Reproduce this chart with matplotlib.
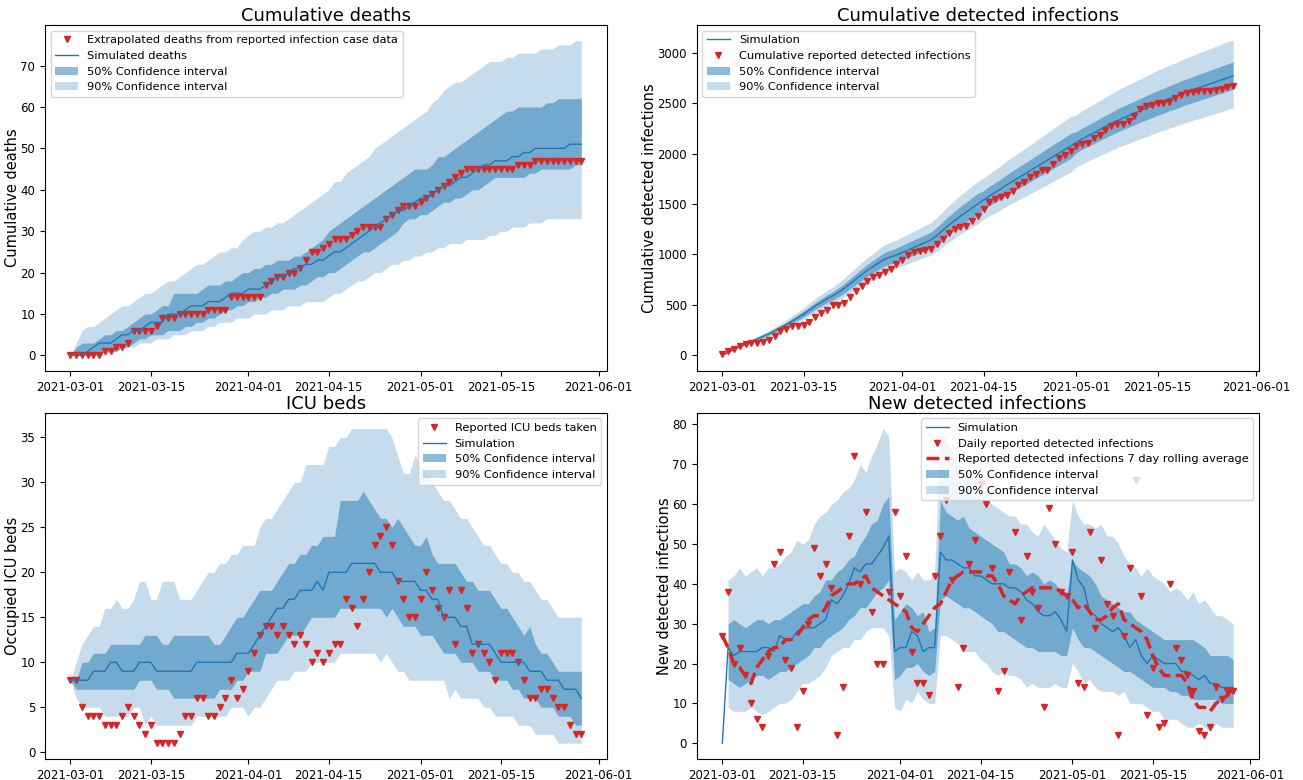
import numpy as np
import pandas as pd
import matplotlib
matplotlib.use("Agg")
import matplotlib.pyplot as plt
import matplotlib.dates as mdates

dates = pd.date_range("2021-03-01", periods=90)

# --- Cumulative deaths ---
deaths_reported = [0, 0, 0, 0, 0, 0, 1, 1, 2, 2, 3, 6, 6, 6, 6, 7, 9, 9, 9, 10,
                   10, 10, 10, 10, 11, 11, 11, 11, 14, 14, 14, 14, 14, 14, 17, 18, 19, 19, 20, 20,
                   21, 23, 25, 25, 26, 27, 28, 28, 28, 29, 30, 31, 31, 31, 31, 33, 34, 35, 36, 36,
                   36, 37, 38, 39, 40, 41, 42, 43, 44, 45, 45, 45, 45, 45, 45, 45, 45, 45, 46, 46,
                   46, 47, 47, 47, 47, 47, 47, 47, 47, 47]
deaths_sim = [0, 0, 0, 1, 2, 3, 3, 3, 4, 5, 5, 6, 6, 7, 8, 8, 8, 10, 10, 10,
              11, 12, 12, 12, 13, 13, 13, 14, 15, 15, 15, 16, 16, 16, 17, 18, 19, 19, 20, 21,
              21, 22, 22, 23, 23, 24, 25, 25, 26, 27, 28, 29, 30, 31, 32, 33, 34, 35, 35, 36,
              37, 38, 38, 39, 40, 41, 41, 42, 43, 43, 44, 45, 46, 46, 47, 47, 47, 48, 48, 49,
              49, 50, 50, 50, 50, 50, 50, 51, 51, 51]
deaths_lo50 = [0, 0, 0, 0, 0, 0, 1, 1, 1, 2, 2, 3, 4, 4, 5, 5, 5, 6, 6, 6,
               7, 7, 8, 8, 9, 9, 10, 11, 11, 12, 12, 13, 13, 14, 14, 15, 15, 16, 16, 16,
               17, 17, 18, 19, 19, 20, 20, 21, 22, 23, 24, 25, 25, 26, 27, 28, 29, 30, 32, 33,
               33, 34, 34, 35, 36, 37, 37, 38, 38, 39, 40, 40, 41, 42, 43, 43, 43, 43, 43, 43,
               44, 44, 45, 45, 45, 45, 45, 45, 46, 46]
deaths_hi50 = [0, 2, 3, 3, 3, 4, 5, 5, 6, 6, 7, 8, 9, 10, 10, 11, 12, 12, 15, 15,
               15, 15, 15, 16, 17, 17, 17, 18, 18, 19, 20, 20, 21, 21, 22, 22, 23, 23, 23, 24,
               24, 25, 26, 27, 28, 30, 31, 32, 33, 34, 35, 36, 37, 38, 39, 40, 41, 42, 43, 44,
               45, 45, 45, 46, 48, 48, 49, 50, 51, 52, 53, 54, 55, 56, 57, 58, 59, 59, 60, 60,
               60, 60, 60, 61, 61, 62, 62, 62, 62, 62]
deaths_lo90 = [0, 0, 0, 0, 0, 0, 0, 1, 1, 2, 2, 2, 3, 3, 3, 4, 4, 4, 5, 5,
               5, 6, 6, 6, 7, 7, 8, 8, 8, 9, 9, 9, 10, 10, 10, 11, 11, 11, 12, 12,
               12, 13, 13, 13, 13, 14, 15, 15, 16, 17, 18, 18, 19, 20, 20, 21, 22, 22, 23, 23,
               24, 24, 25, 25, 26, 26, 27, 27, 27, 28, 28, 28, 28, 29, 29, 30, 30, 31, 31, 31,
               32, 32, 32, 33, 33, 33, 33, 33, 33, 33]
deaths_hi90 = [0, 3, 6, 7, 7, 8, 9, 10, 11, 12, 12, 13, 14, 15, 15, 16, 17, 18, 18, 19,
               20, 21, 22, 22, 23, 24, 25, 25, 26, 26, 28, 29, 30, 30, 31, 31, 32, 32, 33, 34,
               35, 36, 37, 38, 39, 40, 42, 42, 44, 45, 46, 47, 48, 50, 51, 52, 53, 54, 55, 56,
               57, 58, 59, 61, 62, 64, 65, 66, 66, 67, 68, 69, 70, 71, 71, 71, 72, 72, 73, 73,
               73, 73, 74, 74, 74, 75, 75, 75, 76, 76]

# --- Cumulative detected infections (one day shorter) ---
cases_reported = [10, 43, 66, 92, 115, 125, 125, 132, 152, 191,
                  247, 264, 290, 290, 300, 330, 379, 422, 455, 498,
                  498, 521, 577, 643, 686, 742, 775, 801, 824, 857,
                  906, 949, 995, 1022, 1038, 1048, 1055, 1104, 1154, 1213,
                  1252, 1269, 1285, 1335, 1384, 1454, 1516, 1552, 1569, 1585,
                  1632, 1684, 1714, 1763, 1800, 1833, 1842, 1898, 1951, 1987,
                  2024, 2076, 2093, 2103, 2156, 2185, 2235, 2268, 2297, 2297,
                  2327, 2373, 2439, 2472, 2482, 2502, 2505, 2508, 2554, 2577,
                  2597, 2610, 2620, 2620, 2620, 2627, 2640, 2660, 2670]
cases_sim = [0, 30, 60, 90, 115, 140, 165, 190, 215, 245,
             275, 305, 340, 375, 410, 450, 490, 525, 560, 590,
             625, 665, 710, 755, 800, 845, 880, 920, 955, 975,
             995, 1020, 1045, 1070, 1095, 1120, 1145, 1190, 1240, 1290,
             1335, 1380, 1420, 1460, 1500, 1540, 1580, 1615, 1650, 1690,
             1725, 1760, 1795, 1830, 1865, 1900, 1935, 1970, 2005, 2040,
             2075, 2110, 2145, 2175, 2205, 2235, 2265, 2295, 2325, 2350,
             2375, 2400, 2425, 2450, 2475, 2500, 2520, 2545, 2565, 2590,
             2610, 2630, 2650, 2670, 2690, 2710, 2730, 2750, 2770]
cases_lo50 = [0, 28, 56, 84, 107, 130, 153, 177, 200, 228,
              256, 284, 316, 349, 381, 419, 456, 488, 521, 549,
              581, 618, 660, 702, 744, 786, 818, 856, 888, 907,
              925, 949, 972, 995, 1018, 1042, 1065, 1107, 1153, 1200,
              1242, 1283, 1321, 1358, 1395, 1448, 1485, 1518, 1551, 1589,
              1622, 1654, 1687, 1720, 1753, 1786, 1819, 1852, 1885, 1918,
              1951, 2009, 2042, 2071, 2099, 2128, 2156, 2185, 2213, 2237,
              2261, 2285, 2309, 2332, 2356, 2380, 2399, 2423, 2442, 2466,
              2485, 2504, 2523, 2542, 2561, 2580, 2599, 2618, 2637]
cases_hi50 = [0, 32, 64, 96, 123, 150, 177, 203, 230, 262,
              294, 326, 364, 401, 439, 482, 524, 562, 599, 631,
              669, 712, 760, 808, 856, 904, 942, 984, 1022, 1043,
              1065, 1091, 1118, 1145, 1172, 1198, 1225, 1273, 1327, 1380,
              1428, 1477, 1519, 1562, 1605, 1632, 1675, 1712, 1749, 1791,
              1829, 1866, 1903, 1940, 1977, 2014, 2051, 2088, 2125, 2162,
              2200, 2216, 2252, 2284, 2315, 2347, 2378, 2410, 2441, 2468,
              2494, 2520, 2546, 2573, 2599, 2625, 2646, 2672, 2693, 2720,
              2741, 2762, 2783, 2804, 2825, 2846, 2867, 2888, 2909]
cases_lo90 = [0, 26, 52, 78, 100, 122, 144, 165, 187, 213,
              239, 265, 296, 326, 357, 392, 426, 457, 487, 513,
              544, 579, 618, 657, 696, 735, 766, 800, 831, 848,
              866, 887, 909, 931, 953, 974, 996, 1035, 1079, 1122,
              1161, 1201, 1235, 1270, 1305, 1348, 1383, 1413, 1444, 1479,
              1509, 1540, 1571, 1601, 1632, 1663, 1693, 1724, 1754, 1785,
              1816, 1867, 1898, 1925, 1951, 1978, 2005, 2031, 2058, 2080,
              2102, 2124, 2146, 2168, 2190, 2213, 2230, 2252, 2270, 2292,
              2310, 2328, 2345, 2363, 2381, 2398, 2416, 2434, 2451]
cases_hi90 = [0, 35, 69, 104, 132, 161, 190, 219, 247, 282,
              316, 351, 391, 431, 472, 518, 564, 604, 644, 679,
              719, 765, 817, 868, 920, 972, 1012, 1058, 1098, 1121,
              1144, 1173, 1202, 1231, 1259, 1288, 1317, 1369, 1426, 1484,
              1535, 1587, 1633, 1679, 1725, 1756, 1801, 1841, 1881, 1927,
              1967, 2006, 2046, 2086, 2126, 2166, 2206, 2246, 2286, 2326,
              2366, 2384, 2424, 2458, 2492, 2526, 2559, 2593, 2627, 2656,
              2684, 2712, 2740, 2769, 2797, 2825, 2848, 2876, 2898, 2927,
              2949, 2972, 2995, 3017, 3040, 3062, 3085, 3108, 3118]

# --- ICU beds ---
icu_reported = [8, 8, 5, 4, 4, 4, 3, 3, 3, 4, 5, 4, 3, 2, 3, 1, 1, 1, 1, 2,
                4, 4, 6, 6, 4, 4, 5, 6, 8, 6, 7, 9, 11, 13, 14, 14, 13, 14, 13, 12,
                13, 12, 10, 11, 10, 11, 12, 12, 17, 16, 14, 17, 20, 23, 24, 25, 23, 19, 17, 15,
                15, 17, 20, 18, 16, 15, 18, 12, 18, 16, 11, 12, 11, 10, 8, 11, 11, 11, 10, 8,
                6, 6, 7, 7, 6, 5, 5, 3, 2, 2]
icu_sim = [8, 8, 8, 8, 9, 9, 9, 10, 10, 9, 9, 9, 10, 10, 10, 9, 9, 9, 9, 9,
           9, 9, 10, 10, 10, 10, 10, 10, 10, 11, 11, 11, 12, 13, 14, 15, 16, 16, 17, 17,
           18, 18, 18, 19, 18, 20, 20, 20, 20, 21, 21, 21, 21, 21, 20, 20, 20, 19, 19, 19,
           19, 18, 18, 17, 17, 15, 15, 15, 14, 14, 12, 12, 12, 12, 11, 10, 10, 10, 10, 10,
           9, 9, 9, 8, 8, 8, 7, 7, 7, 6]
icu_lo50 = [8, 7, 7, 7, 7, 7, 7, 7, 7, 7, 7, 7, 8, 8, 8, 7, 7, 7, 6, 6,
            6, 6, 6, 6, 6, 6, 7, 7, 7, 8, 8, 9, 9, 9, 11, 11, 11, 12, 13, 13,
            13, 14, 15, 15, 15, 15, 15, 16, 16, 16, 16, 16, 16, 16, 16, 15, 16, 15, 14, 14,
            14, 13, 13, 13, 12, 11, 11, 11, 10, 10, 10, 9, 9, 9, 8, 8, 8, 7, 7, 6,
            6, 6, 5, 5, 5, 4, 4, 4, 3, 3]
icu_hi50 = [8, 8, 10, 10, 11, 11, 11, 12, 12, 12, 12, 12, 12, 13, 13, 13, 12, 12, 13, 13,
            13, 13, 13, 13, 13, 12, 12, 13, 14, 15, 15, 16, 17, 18, 18, 18, 19, 20, 21, 21,
            22, 22, 23, 23, 24, 24, 24, 28, 28, 28, 28, 29, 28, 27, 26, 26, 25, 26, 25, 24,
            23, 23, 24, 22, 21, 21, 21, 21, 20, 19, 19, 18, 18, 18, 17, 16, 16, 15, 14, 13,
            14, 12, 11, 11, 10, 9, 9, 9, 9, 9]
icu_lo90 = [8, 6, 5, 5, 5, 5, 4, 4, 4, 4, 4, 5, 5, 3, 4, 3, 3, 3, 3, 3,
            3, 3, 4, 4, 4, 4, 4, 4, 5, 5, 5, 4, 5, 5, 6, 7, 8, 8, 8, 9,
            9, 9, 10, 10, 10, 10, 10, 11, 11, 11, 11, 11, 11, 11, 10, 11, 10, 9, 9, 8,
            8, 8, 8, 8, 8, 8, 6, 7, 6, 6, 6, 6, 5, 5, 4, 4, 4, 4, 3, 3,
            3, 2, 2, 2, 2, 1, 1, 1, 1, 1]
icu_hi90 = [8, 10, 12, 13, 14, 14, 16, 16, 17, 16, 16, 17, 19, 19, 17, 17, 19, 19, 19, 17,
            17, 17, 18, 19, 20, 20, 21, 21, 22, 22, 23, 23, 23, 25, 26, 26, 27, 28, 29, 30,
            30, 32, 32, 32, 32, 34, 34, 35, 35, 36, 36, 36, 36, 36, 36, 36, 35, 33, 31, 31,
            33, 32, 31, 30, 29, 28, 28, 27, 26, 26, 25, 24, 23, 23, 22, 21, 21, 20, 20, 19,
            19, 18, 17, 17, 16, 15, 15, 15, 15, 15]

# --- New detected infections (bands start on day 2) ---
new_reported = [27, 38, 20, 24, 17, 10, 6, 4, 22, 45, 48, 21, 19, 4, 13, 30, 49, 42, 45, 39,
                2, 14, 52, 72, 40, 58, 33, 20, 20, 38, 58, 37, 47, 23, 15, 15, 12, 42, 52, 61,
                41, 14, 24, 45, 51, 65, 60, 44, 13, 18, 43, 53, 31, 47, 38, 34, 9, 59, 50, 38,
                37, 48, 15, 14, 53, 29, 46, 35, 32, 2, 27, 44, 66, 37, 7, 19, 4, 5, 40, 24,
                21, 17, 13, 3, 2, 4, 14, 11, 13, 13]
new_rolling = [27, 24, 20, 19, 17, 15, 19, 21, 23, 24, 24, 26, 26, 27, 29, 31, 32, 32, 34, 37,
               38, 39, 40, 40, 41, 42, 39, 38, 37, 36, 35, 34, 33, 29, 28, 30, 32, 34, 35, 38,
               41, 42, 43, 43, 43, 43, 42, 42, 40, 37, 36, 35, 37, 38, 39, 39, 39, 39, 39, 38,
               37, 36, 34, 35, 33, 31, 31, 32, 34, 35, 31, 30, 29, 28, 26, 22, 19, 17, 17, 17,
               17, 15, 11, 9, 9, 8, 10, 11, 12, 14]
new_sim = [0, 24, 22, 23, 23, 23, 23, 24, 24, 23, 27, 26, 26, 28, 29, 29, 29, 30, 31, 36,
           35, 37, 40, 44, 43, 45, 45, 47, 49, 52, 23, 24, 24, 28, 27, 23, 24, 24, 48, 46,
           46, 45, 44, 44, 42, 42, 41, 40, 40, 40, 39, 39, 38, 36, 35, 33, 32, 32, 33, 31,
           28, 46, 41, 39, 33, 32, 30, 29, 28, 29, 27, 24, 26, 22, 20, 22, 21, 20, 20, 20,
           18, 18, 17, 16, 17, 15, 15, 14, 14, 14]
new_lo50 = [16, 15, 14, 15, 16, 17, 17, 16, 17, 18, 18, 19, 20, 21, 22, 24, 24, 26, 27, 28,
            29, 31, 32, 34, 34, 36, 38, 39, 41, 16, 17, 19, 19, 20, 18, 17, 18, 36, 37, 36,
            35, 34, 34, 33, 32, 31, 30, 28, 28, 27, 26, 25, 24, 24, 23, 23, 23, 23, 22, 22,
            29, 26, 24, 24, 23, 22, 21, 20, 19, 18, 18, 17, 16, 15, 14, 14, 14, 13, 13, 12,
            12, 11, 11, 11, 11, 11, 10, 10, 10]
new_hi50 = [30, 31, 30, 29, 30, 31, 31, 30, 31, 31, 32, 33, 34, 35, 35, 37, 38, 41, 41, 43,
            44, 46, 47, 50, 52, 55, 56, 60, 62, 31, 33, 35, 34, 32, 33, 28, 29, 61, 58, 57,
            56, 57, 54, 53, 52, 51, 50, 49, 48, 45, 45, 44, 42, 43, 42, 40, 41, 40, 38, 37,
            46, 44, 43, 42, 40, 37, 36, 35, 34, 33, 33, 31, 30, 29, 28, 27, 26, 26, 26, 26,
            26, 26, 25, 24, 22, 22, 22, 22, 21]
new_lo90 = [9, 8, 8, 8, 9, 8, 7, 8, 9, 10, 10, 11, 13, 15, 15, 16, 17, 19, 22, 23,
            24, 24, 26, 26, 28, 29, 29, 29, 27, 9, 8, 11, 10, 13, 11, 10, 10, 27, 27, 26,
            25, 23, 23, 23, 21, 20, 18, 17, 18, 17, 17, 16, 14, 15, 14, 14, 14, 15, 14, 14,
            20, 18, 15, 16, 14, 13, 13, 13, 12, 13, 10, 10, 10, 9, 8, 8, 6, 6, 6, 5,
            4, 4, 5, 4, 3, 5, 4, 4, 4]
new_hi90 = [41, 42, 44, 42, 43, 44, 42, 44, 44, 45, 47, 48, 51, 50, 51, 55, 57, 58, 60, 61,
            63, 64, 66, 70, 68, 72, 75, 79, 77, 43, 44, 43, 41, 43, 41, 41, 43, 79, 76, 73,
            70, 69, 67, 66, 64, 61, 60, 59, 58, 57, 57, 55, 55, 53, 52, 55, 53, 51, 49, 48,
            61, 57, 55, 55, 54, 55, 52, 52, 50, 47, 45, 44, 42, 44, 42, 41, 40, 38, 39, 38,
            36, 38, 35, 36, 34, 32, 32, 31, 30]

blue = "tab:blue"
red = "tab:red"

fig, axes = plt.subplots(2, 2, figsize=(13.03, 7.8), dpi=100)
fig.subplots_adjust(left=0.0345, right=0.966, bottom=0.027, top=0.968, wspace=0.16, hspace=0.12)
ax1, ax2, ax3, ax4 = axes.flat

# Cumulative deaths
ax1.plot(dates, deaths_reported, "v", color=red, ms=5, label="Extrapolated deaths from reported infection case data")
ax1.plot(dates, deaths_sim, color=blue, lw=1, label="Simulated deaths")
ax1.fill_between(dates, deaths_lo50, deaths_hi50, color=blue, alpha=0.5, lw=0, label="50% Confidence interval")
ax1.fill_between(dates, deaths_lo90, deaths_hi90, color=blue, alpha=0.25, lw=0, label="90% Confidence interval")
ax1.set_title("Cumulative deaths", fontsize=13, pad=2.5)
ax1.set_ylabel("Cumulative deaths", fontsize=10.5, labelpad=0)
ax1.legend(loc="upper left", fontsize=8.2)

# Cumulative detected infections
d2 = dates[:89]
ax2.plot(d2, cases_sim, color=blue, lw=1, label="Simulation")
ax2.plot(d2, cases_reported, "v", color=red, ms=5, label="Cumulative reported detected infections")
ax2.fill_between(d2, cases_lo50, cases_hi50, color=blue, alpha=0.5, lw=0, label="50% Confidence interval")
ax2.fill_between(d2, cases_lo90, cases_hi90, color=blue, alpha=0.25, lw=0, label="90% Confidence interval")
ax2.set_title("Cumulative detected infections", fontsize=13, pad=2.5)
ax2.set_ylabel("Cumulative detected infections", fontsize=10.5, labelpad=0)
ax2.legend(loc="upper left", fontsize=8.2)

# ICU beds
ax3.plot(dates, icu_reported, "v", color=red, ms=5, label="Reported ICU beds taken")
ax3.plot(dates, icu_sim, color=blue, lw=1, label="Simulation")
ax3.fill_between(dates, icu_lo50, icu_hi50, color=blue, alpha=0.5, lw=0, label="50% Confidence interval")
ax3.fill_between(dates, icu_lo90, icu_hi90, color=blue, alpha=0.25, lw=0, label="90% Confidence interval")
ax3.set_title("ICU beds", fontsize=13, pad=2.5)
ax3.set_ylabel("Occupied ICU beds", fontsize=10.5, labelpad=0)
ax3.legend(loc="upper right", fontsize=8.2)

# New detected infections
ax4.plot(dates, new_sim, color=blue, lw=1, label="Simulation")
ax4.plot(dates, new_reported, "v", color=red, ms=5, label="Daily reported detected infections")
ax4.plot(dates, new_rolling, "--", color=red, lw=2.5, label="Reported detected infections 7 day rolling average")
ax4.fill_between(dates[1:], new_lo50, new_hi50, color=blue, alpha=0.5, lw=0, label="50% Confidence interval")
ax4.fill_between(dates[1:], new_lo90, new_hi90, color=blue, alpha=0.25, lw=0, label="90% Confidence interval")
ax4.set_title("New detected infections", fontsize=13, pad=2.5)
ax4.set_ylabel("New detected infections", fontsize=10.5, labelpad=0)
ax4.legend(loc="upper right", fontsize=8.2)

for ax in axes.flat:
    ax.xaxis.set_major_locator(mdates.DayLocator(bymonthday=[1, 15]))
    ax.xaxis.set_major_formatter(mdates.DateFormatter("%Y-%m-%d"))
    ax.tick_params(labelsize=8.5)

fig.savefig("out.png", dpi=100)
